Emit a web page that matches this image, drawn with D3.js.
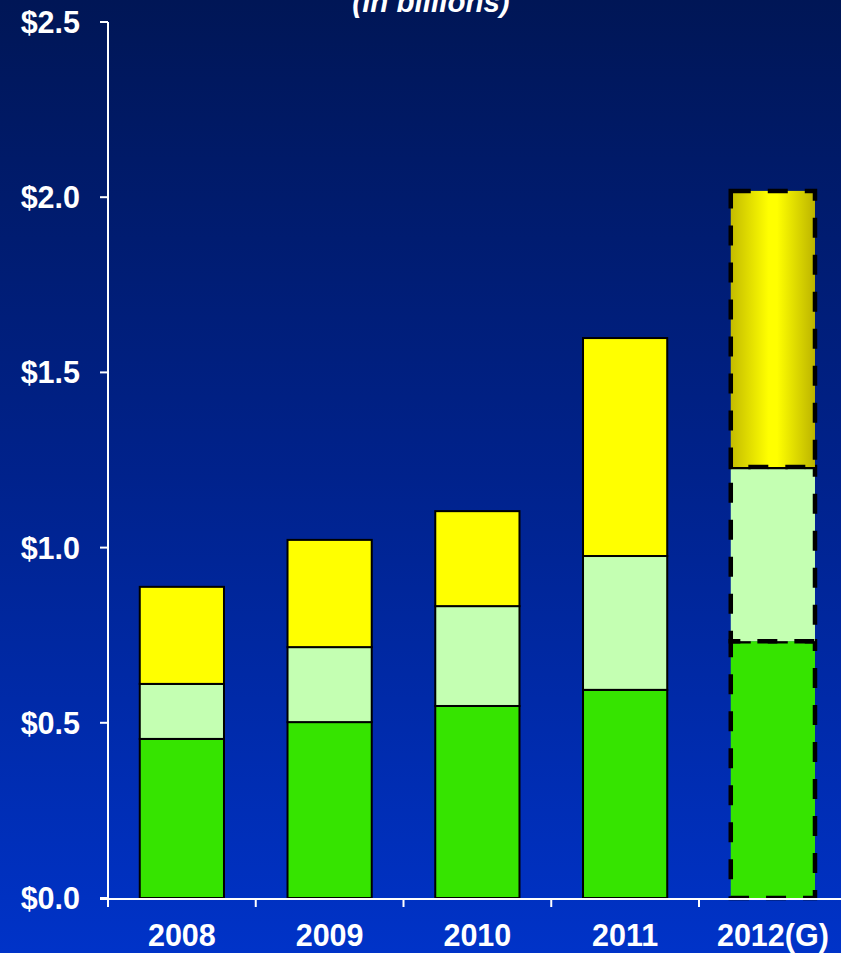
<!DOCTYPE html>
<html>
<head>
<meta charset="utf-8">
<script src="https://cdn.jsdelivr.net/npm/d3@7"></script>
<style>
  html, body { margin: 0; padding: 0; background: #0026a0; }
  svg { display: block; }
  text { font-family: "Liberation Sans", Arial, sans-serif; font-weight: bold; fill: #fff; }
</style>
</head>
<body>
<div id="chart"></div>
<script>
// values in $ billions
const years = ["2008", "2009", "2010", "2011", "2012(G)"];
const baseValues = [0.454, 0.502, 0.548, 0.594, 0.733];
const midValues = [0.157, 0.214, 0.285, 0.382, 0.497];
const topValues = [0.277, 0.306, 0.271, 0.622, 0.788];
const yTicks = [0, 0.5, 1.0, 1.5, 2.0, 2.5];
const guidanceYear = "2012(G)";

const W = 841, H = 953;

const rows = years.map((y, i) => ({ year: y, base: baseValues[i], mid: midValues[i], top: topValues[i] }));
const keys = ["base", "mid", "top"];
const colors = { base: "#36e400", mid: "#c4ffb2", top: "#ffff00" };

const svg = d3.select("#chart").append("svg")
    .attr("width", W)
    .attr("height", H);

const defs = svg.append("defs");
const bg = defs.append("linearGradient")
    .attr("id", "bg").attr("x1", 0).attr("y1", 0).attr("x2", 0).attr("y2", 1);
bg.append("stop").attr("offset", "0%").attr("stop-color", "#001656");
bg.append("stop").attr("offset", "50%").attr("stop-color", "#00228c");
bg.append("stop").attr("offset", "100%").attr("stop-color", "#0033c8");

const yel = defs.append("linearGradient")
    .attr("id", "yel").attr("x1", 0).attr("y1", 0).attr("x2", 1).attr("y2", 0);
yel.append("stop").attr("offset", "0%").attr("stop-color", "#c4bc00");
yel.append("stop").attr("offset", "45%").attr("stop-color", "#ffff00");
yel.append("stop").attr("offset", "55%").attr("stop-color", "#ffff00");
yel.append("stop").attr("offset", "100%").attr("stop-color", "#bcb400");

svg.append("rect").attr("width", W).attr("height", H).attr("fill", "url(#bg)");

const x = d3.scaleBand()
    .domain(years)
    .range([108, 846.75])
    .paddingInner(0.43)
    .paddingOuter(0.215);

const y = d3.scaleLinear()
    .domain([0, 2.5])
    .range([898, 22]);

const stacked = d3.stack().keys(keys)(rows);

// solid bars
const layers = svg.append("g");
stacked.forEach(layer => {
    layers.selectAll(null)
        .data(layer.filter(d => d.data.year !== guidanceYear))
        .enter().append("rect")
        .attr("x", d => x(d.data.year))
        .attr("y", d => y(d[1]))
        .attr("width", x.bandwidth())
        .attr("height", d => y(d[0]) - y(d[1]))
        .attr("fill", colors[layer.key])
        .attr("stroke", "#000")
        .attr("stroke-width", 2);
});

// guidance bar, dashed outline
stacked.forEach(layer => {
    layers.selectAll(null)
        .data(layer.filter(d => d.data.year === guidanceYear))
        .enter().append("rect")
        .attr("x", d => x(d.data.year))
        .attr("y", d => y(d[1]))
        .attr("width", x.bandwidth())
        .attr("height", d => y(d[0]) - y(d[1]))
        .attr("fill", layer.key === "top" ? "url(#yel)" : colors[layer.key])
        .attr("stroke", "#000")
        .attr("stroke-width", 4.5)
        .attr("stroke-dasharray", "20 17");
});

// y axis
const yAxis = svg.append("g");
yAxis.append("line")
    .attr("x1", 108).attr("x2", 108)
    .attr("y1", y(2.5)).attr("y2", y(0))
    .attr("stroke", "#fff").attr("stroke-width", 2);
yAxis.selectAll(".tick")
    .data(yTicks)
    .enter().append("line")
    .attr("x1", 100).attr("x2", 108)
    .attr("y1", d => y(d)).attr("y2", d => y(d))
    .attr("stroke", "#fff").attr("stroke-width", 2);
yAxis.selectAll(".lbl")
    .data(yTicks)
    .enter().append("text")
    .attr("x", 80)
    .attr("y", d => y(d) + 11)
    .attr("text-anchor", "end")
    .attr("font-size", 30.5)
    .text(d => "$" + d.toFixed(1));

// x axis
const xAxis = svg.append("g");
xAxis.append("line")
    .attr("x1", 100).attr("x2", W)
    .attr("y1", y(0) + 1).attr("y2", y(0) + 1)
    .attr("stroke", "#fff").attr("stroke-width", 2);
const gap = x.step() * x.paddingInner() / 2;
xAxis.selectAll(".tick")
    .data(years)
    .enter().append("line")
    .attr("x1", d => x(d) - gap).attr("x2", d => x(d) - gap)
    .attr("y1", y(0) + 1).attr("y2", y(0) + 9)
    .attr("stroke", "#fff").attr("stroke-width", 2);
xAxis.selectAll(".lbl")
    .data(years)
    .enter().append("text")
    .attr("x", d => x(d) + x.bandwidth() / 2)
    .attr("y", 946)
    .attr("text-anchor", "middle")
    .attr("font-size", 30.5)
    .text(d => d);

// subtitle, cut off at the top as in the original
svg.append("text")
    .attr("x", 431)
    .attr("y", 12)
    .attr("text-anchor", "middle")
    .attr("font-size", 29.5)
    .attr("font-style", "italic")
    .text("(in billions)");
</script>
</body>
</html>
